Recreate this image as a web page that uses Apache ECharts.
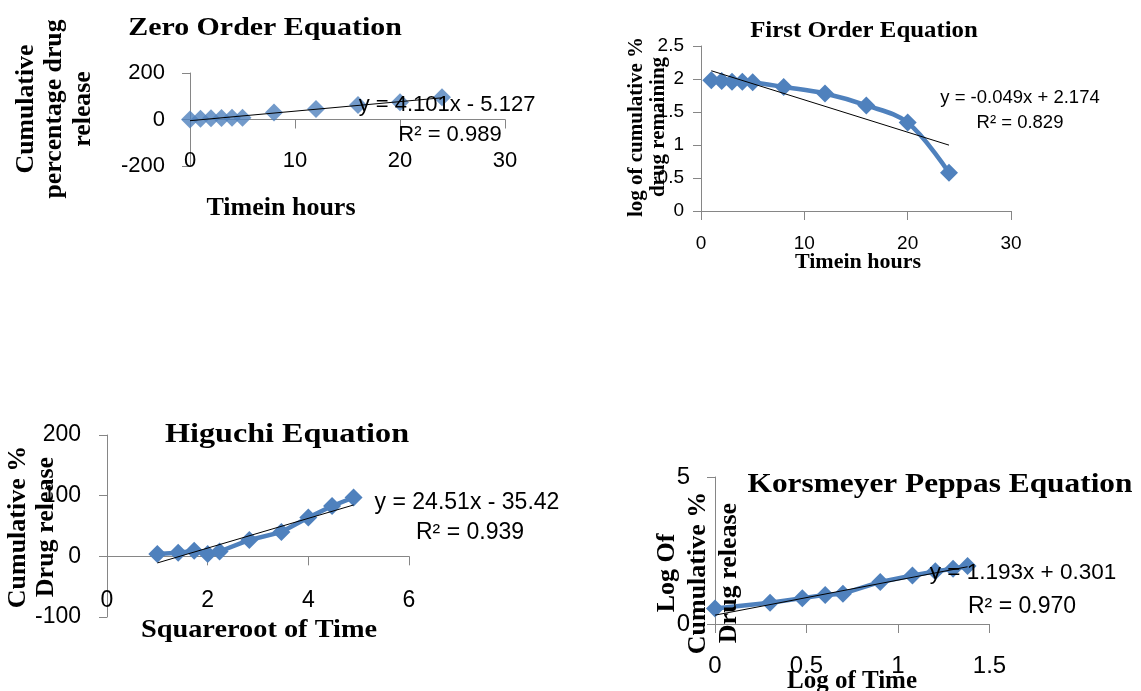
<!DOCTYPE html>
<html><head><meta charset="utf-8">
<script src="https://cdn.jsdelivr.net/npm/echarts@6/dist/echarts.min.js"></script>
<style>html,body{margin:0;padding:0;background:#fff}#c{width:1141px;height:691px}</style>
</head><body><div id="c"></div>
<script>
// ---- Data ----
const zeroTime = [0, 1, 2, 3, 4, 5, 8, 12, 16, 20, 24];
const zeroRelease = [0, 3, 5, 6, 7, 8, 30, 45, 62, 74, 96];
const zeroTrend = [[0, -5.127], [24, 93.297]];

const firstTime = [1, 2, 3, 4, 5, 8, 12, 16, 20, 24];
const firstLogRemain = [1.98, 1.97, 1.96, 1.96, 1.95, 1.88, 1.78, 1.60, 1.34, 0.58];
const firstTrend = [[1, 2.125], [24, 0.998]];

const higuchiSqrtTime = [1, 1.414, 1.732, 2, 2.236, 2.828, 3.464, 4, 4.472, 4.899];
const higuchiRelease = [4, 6, 9, 4, 8, 27, 40, 64, 83, 97];
const higuchiTrend = [[1, -10.91], [4.899, 84.66]];

const kpLogTime = [0, 0.301, 0.477, 0.602, 0.699, 0.903, 1.079, 1.204, 1.301, 1.380];
const kpLogRelease = [0.53, 0.72, 0.88, 0.99, 1.03, 1.43, 1.65, 1.79, 1.88, 1.97];
const kpTrend = [[0, 0.301], [1.380, 1.947]];

const titles = ['Zero Order Equation', 'First Order Equation', 'Higuchi Equation', 'Korsmeyer Peppas Equation'];
const xNames = ['Timein hours', 'Timein hours', 'Squareroot of Time', 'Log of Time'];
const yNames = ['Cumulative\npercentage drug\nrelease', 'log of cumulative %\ndrug remaining', 'Cumulative %\nDrug release', 'Log Of\nCumulative %\nDrug release'];
const equations = ['y = 4.101x - 5.127', 'y = -0.049x + 2.174', 'y = 24.51x - 35.42', 'y = 1.193x + 0.301'];
const rSquared = ['R² = 0.989', 'R² = 0.829', 'R² = 0.939', 'R² = 0.970'];

// ---- Chart ----
const BLUE = '#4F81BD';
const AXIS = '#868686';
const zip = (a, b) => a.map((v, i) => [v, b[i]]);

const grids = [
  {left: 190, top: 73, width: 315, height: 93},
  {left: 701, top: 46, width: 310, height: 165},
  {left: 107, top: 435, width: 302, height: 182},
  {left: 715, top: 477, width: 274.5, height: 147}
].map(g => Object.assign({containLabel: false, outerBoundsMode: 'none'}, g));

const xr = [[0, 30, 10], [0, 30, 10], [0, 6, 2], [0, 1.5, 0.5]];
const yr = [[-200, 200, 200], [0, 2.5, 0.5], [-100, 200, 100], [0, 5, 5]];
const tickFont = [22, 19, 23, 24];
const xLabelOffset = [-16.5, 0, -27.5, 0];
const xLabelMargin = [0, 23.5, 0, 30];
const yLabelMargin = [25, 17, 26, 25];

const xAxes = [], yAxes = [];
for (let i = 0; i < 4; i++) {
  xAxes.push({
    type: 'value', gridIndex: i, min: xr[i][0], max: xr[i][1], interval: xr[i][2],
    position: 'bottom',
    axisLine: {show: true, onZero: true, lineStyle: {color: AXIS, width: 1}},
    axisTick: {show: true, length: 9, lineStyle: {color: AXIS}},
    axisLabel: {show: false}, splitLine: {show: false}
  });
  xAxes.push({
    type: 'value', gridIndex: i, min: xr[i][0], max: xr[i][1], interval: xr[i][2],
    position: 'bottom', offset: xLabelOffset[i],
    axisLine: {show: false, onZero: false}, axisTick: {show: false},
    axisLabel: {show: true, margin: xLabelMargin[i], color: '#000', fontSize: tickFont[i], fontFamily: 'Liberation Sans'},
    splitLine: {show: false}
  });
  yAxes.push({
    type: 'value', gridIndex: i, min: yr[i][0], max: yr[i][1], interval: yr[i][2],
    axisLine: {show: true, onZero: false, lineStyle: {color: AXIS, width: 1}},
    axisTick: {show: true, length: 8, lineStyle: {color: AXIS}},
    axisLabel: {margin: yLabelMargin[i], color: '#000', fontSize: tickFont[i], fontFamily: 'Liberation Sans'},
    splitLine: {show: false}
  });
}

const marker = {symbol: 'diamond', symbolSize: 18, itemStyle: {color: BLUE}};
const trendStyle = {type: 'line', symbol: 'none', z: 5, lineStyle: {color: '#000', width: 1}, silent: true};

const series = [
  Object.assign({type: 'scatter', xAxisIndex: 0, yAxisIndex: 0, data: zip(zeroTime, zeroRelease)}, marker),
  Object.assign({xAxisIndex: 0, yAxisIndex: 0, data: zeroTrend}, trendStyle),
  Object.assign({type: 'line', xAxisIndex: 2, yAxisIndex: 1, smooth: 0.35, data: zip(firstTime, firstLogRemain), lineStyle: {color: BLUE, width: 4.5}}, marker),
  Object.assign({xAxisIndex: 2, yAxisIndex: 1, data: firstTrend}, trendStyle),
  Object.assign({type: 'line', xAxisIndex: 4, yAxisIndex: 2, data: zip(higuchiSqrtTime, higuchiRelease), lineStyle: {color: BLUE, width: 4.5}}, marker),
  Object.assign({xAxisIndex: 4, yAxisIndex: 2, data: higuchiTrend}, trendStyle),
  Object.assign({type: 'line', xAxisIndex: 6, yAxisIndex: 3, data: zip(kpLogTime, kpLogRelease), lineStyle: {color: BLUE, width: 4.5}}, marker),
  Object.assign({xAxisIndex: 6, yAxisIndex: 3, data: kpTrend}, trendStyle)
];

function txt(text, x, y, font, o) {
  o = o || {};
  return {
    type: 'text', x: x, y: y, rotation: o.rot || 0, scaleX: o.sx || 1, z: 100,
    style: {
      text: text, font: font, fill: '#000',
      textAlign: 'center', textVerticalAlign: 'middle', align: 'center', verticalAlign: 'middle',
      lineHeight: o.lh
    }
  };
}
const serif = (s) => 'bold ' + s + 'px "Liberation Serif", "Times New Roman", serif';
const sans = (s) => s + 'px "Liberation Sans", Arial, sans-serif';
const R = Math.PI / 2;

const graphic = [
  // titles
  txt(titles[0], 265, 28, serif(26), {sx: 1.15}),
  txt(titles[1], 864, 31, serif(23), {sx: 1.08}),
  txt(titles[2], 287, 435, serif(27.5), {sx: 1.17}),
  txt(titles[3], 940, 485, serif(27.5), {sx: 1.14}),
  // x names
  txt(xNames[0], 281, 208, serif(26)),
  txt(xNames[1], 858, 262, serif(22)),
  txt(xNames[2], 259, 630, serif(26), {sx: 1.09}),
  txt(xNames[3], 852, 682, serif(25)),
  // y names
  txt(yNames[0], 55, 109, serif(25), {rot: R, lh: 28.5, sx: 1.03}),
  txt(yNames[1], 648, 127, serif(21), {rot: R, lh: 22}),
  txt(yNames[2], 32.5, 527, serif(26), {rot: R, lh: 27.5}),
  txt(yNames[3], 698, 573, serif(26), {rot: R, lh: 31}),
  // equations
  txt(equations[0], 447, 105, sans(22)),
  txt(rSquared[0], 450, 135, sans(22)),
  txt(equations[1], 1020, 98, sans(18.5)),
  txt(rSquared[1], 1020, 123, sans(18.5)),
  txt(equations[2], 467, 503, sans(23)),
  txt(rSquared[2], 470, 533, sans(23)),
  txt(equations[3], 1023, 573, sans(22.5)),
  txt(rSquared[3], 1022, 607, sans(23))
];

const chart = echarts.init(document.getElementById('c'), null, {renderer: 'canvas'});
chart.setOption({
  animation: false,
  backgroundColor: '#fff',
  grid: grids,
  xAxis: xAxes,
  yAxis: yAxes,
  series: series,
  graphic: graphic
});
</script>
</body></html>
